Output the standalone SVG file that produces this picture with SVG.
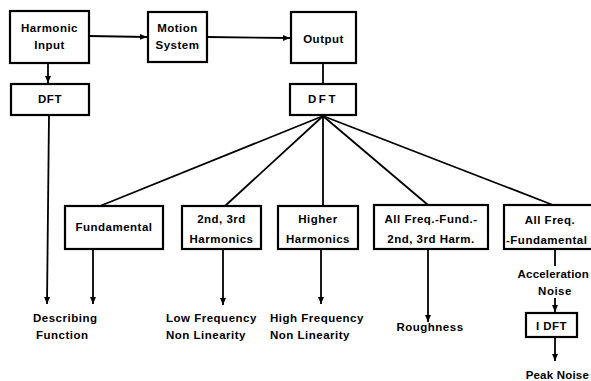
<svg xmlns="http://www.w3.org/2000/svg" width="591" height="381" viewBox="0 0 591 381">
<style>
.box{fill:#fff;stroke:#000;stroke-width:2.2}
.ln{fill:none;stroke:#000;stroke-width:1.8}
text{font-family:"Liberation Sans",Arial,sans-serif;font-weight:bold;font-size:11.5px;letter-spacing:0.5px;fill:#000;text-anchor:middle;dominant-baseline:central}
.r{text-anchor:end;letter-spacing:0.2px}
</style>
<defs>
<marker id="ah" markerWidth="8" markerHeight="8" refX="7" refY="4" orient="auto" markerUnits="userSpaceOnUse">
<path d="M0,1 L7,4 L0,7 Z" fill="#000"/>
</marker>
</defs>
<rect width="591" height="381" fill="#fff"/>
<g id="connectors">
<line class="ln" x1="89" y1="36" x2="147" y2="37" marker-end="url(#ah)"/>
<line class="ln" x1="207" y1="37" x2="290" y2="38" marker-end="url(#ah)"/>
<line class="ln" x1="48" y1="63" x2="48" y2="83" marker-end="url(#ah)"/>
<line class="ln" x1="323" y1="63" x2="323" y2="84"/>
<line class="ln" x1="49" y1="115" x2="47" y2="304" marker-end="url(#ah)"/>
<line class="ln" x1="323" y1="116" x2="100" y2="206"/>
<line class="ln" x1="323" y1="116" x2="225" y2="206"/>
<line class="ln" x1="323" y1="116" x2="323" y2="206"/>
<line class="ln" x1="323" y1="116" x2="428" y2="205"/>
<line class="ln" x1="323" y1="116" x2="553" y2="205"/>
<line class="ln" x1="93" y1="249" x2="93" y2="304" marker-end="url(#ah)"/>
<line class="ln" x1="223" y1="249" x2="223" y2="305" marker-end="url(#ah)"/>
<line class="ln" x1="321" y1="249" x2="321" y2="304" marker-end="url(#ah)"/>
<line class="ln" x1="428" y1="249" x2="428" y2="322" marker-end="url(#ah)"/>
<line class="ln" x1="555" y1="249" x2="555" y2="266"/>
<line class="ln" x1="555" y1="298" x2="555" y2="312" marker-end="url(#ah)"/>
<line class="ln" x1="555" y1="337" x2="555" y2="361" marker-end="url(#ah)"/>
</g>
<g id="harmonic-input"><rect class="box" x="10" y="11" width="79" height="52"/><text x="49.5" y="28">Harmonic</text><text x="49.5" y="45">Input</text></g>
<g id="motion-system"><rect class="box" x="148" y="12" width="59" height="50"/><text x="177.5" y="28">Motion</text><text x="177.5" y="45">System</text></g>
<g id="output"><rect class="box" x="291" y="12" width="65" height="51"/><text x="323.5" y="39">Output</text></g>
<g id="dft-left"><rect class="box" x="11" y="84" width="78" height="31"/><text x="50" y="99">DFT</text></g>
<g id="dft-right"><rect class="box" x="290" y="84" width="66" height="31"/><text x="323" y="99" style="letter-spacing:2.5px">DFT</text></g>
<g id="fundamental"><rect class="box" x="65" y="206" width="98" height="43"/><text x="114" y="227">Fundamental</text></g>
<g id="harmonics-23"><rect class="box" x="182" y="206" width="79" height="43"/><text x="221.5" y="219">2nd, 3rd</text><text x="221.5" y="239">Harmonics</text></g>
<g id="higher-harmonics"><rect class="box" x="278" y="206" width="80" height="43"/><text x="318" y="219">Higher</text><text x="318" y="239">Harmonics</text></g>
<g id="all-freq-fund-23"><rect class="box" x="374" y="205" width="114" height="44"/><text x="431" y="219">All Freq.-Fund.-</text><text x="431" y="239">2nd, 3rd Harm.</text></g>
<g id="all-freq-fundamental"><rect class="box" x="504" y="205" width="100" height="44"/><text x="550" y="220">All Freq.</text><text x="506" y="240" style="text-anchor:start">-Fundamental</text></g>
<g id="describing-function"><text x="33" y="318" style="text-anchor:start">Describing</text><text x="36" y="335" style="text-anchor:start">Function</text></g>
<g id="low-frequency"><text x="166" y="318" style="text-anchor:start">Low Frequency</text><text x="166" y="335" style="text-anchor:start">Non Linearity</text></g>
<g id="high-frequency"><text x="270" y="318" style="text-anchor:start">High Frequency</text><text x="270" y="335" style="text-anchor:start">Non Linearity</text></g>
<g id="roughness"><text x="430" y="327">Roughness</text></g>
<g id="acceleration-noise"><text class="r" x="589" y="274">Acceleration</text><text x="555" y="291">Noise</text></g>
<g id="idft"><rect class="box" x="526" y="313" width="51" height="24"/><text x="551.5" y="326">I DFT</text></g>
<g id="peak-noise"><text class="r" x="589" y="375">Peak Noise</text></g>
</svg>
